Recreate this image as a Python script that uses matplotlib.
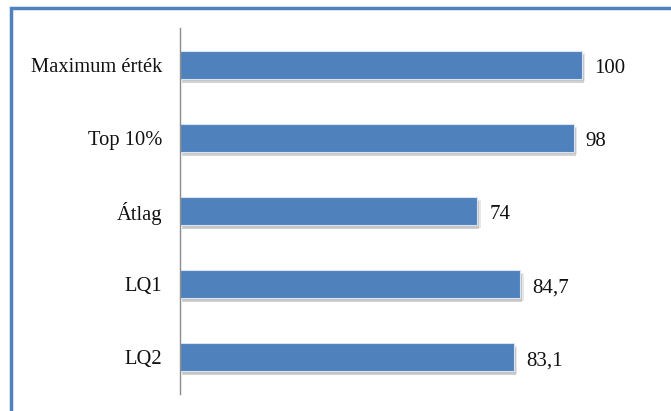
import matplotlib
matplotlib.use("Agg")
import matplotlib.pyplot as plt
import matplotlib.patheffects as pe
from matplotlib.patches import Rectangle
from matplotlib.transforms import offset_copy

# categories top to bottom
categories = ["Maximum érték", "Top 10%", "Átlag", "LQ1", "LQ2"]
values = [100, 98, 74, 84.7, 83.1]

plt.rcParams['font.family'] = ['Liberation Serif', 'DejaVu Serif']

fig = plt.figure(figsize=(6.71, 4.11), dpi=100)
ax = fig.add_axes([180 / 671, 17 / 411, 482 / 671, 366 / 411])

ypos = list(range(len(categories)))[::-1]
bars = ax.barh(ypos, values, height=0.38, color="#4F81BD",
               edgecolor="#d9e3f1", linewidth=0.8)
for b in bars:
    b.set_path_effects([pe.SimplePatchShadow(offset=(1.5, -3), shadow_rgbFace="#808080", alpha=0.35),
                        pe.SimplePatchShadow(offset=(2.5, -2), shadow_rgbFace="#a0a0a0", alpha=0.25),
                        pe.Normal()])

# value labels, nudged a few pixels down like the original
lbl_tr = offset_copy(ax.transData, fig=fig, x=0, y=-3.5, units="dots")
for y, v in zip(ypos, values):
    label = f"{v:g}".replace(".", ",")
    ax.text(v + 3, y, label, va="center", ha="left", fontsize=15,
            color="#111111", transform=lbl_tr)

ax.set_xlim(0, 120)
ax.set_ylim(-0.5, len(categories) - 0.5)
ax.set_yticks(ypos)
ax.set_yticklabels(categories, fontsize=14.8, color="#111111")
ax.tick_params(axis="y", length=0, pad=13)
ax.set_xticks([])
for s in ["top", "right", "bottom"]:
    ax.spines[s].set_visible(False)
ax.spines["left"].set_color("#8c8c8c")
ax.spines["left"].set_linewidth(1)

# outer chart border (only left and top edges visible in the crop)
fig.patches.append(Rectangle((11 / 671, -0.1), 1.2, (1 - 7.5 / 411) + 0.1,
                             transform=fig.transFigure, fill=False,
                             edgecolor="#4F81BD", linewidth=2.5, zorder=0))

fig.savefig("out.png", dpi=100)
